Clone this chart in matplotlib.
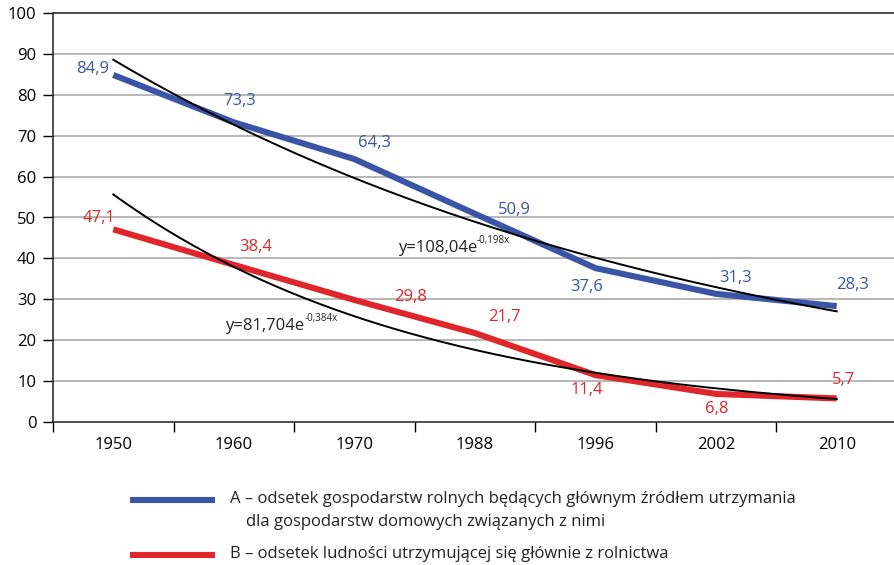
import numpy as np
import matplotlib
matplotlib.use("Agg")
import matplotlib.pyplot as plt
from matplotlib.lines import Line2D

plt.rcParams['font.family'] = ['Open Sans', 'DejaVu Sans']

years = ['1950', '1960', '1970', '1988', '1996', '2002', '2010']
series_a = [84.9, 73.3, 64.3, 50.9, 37.6, 31.3, 28.3]
series_b = [47.1, 38.4, 29.8, 21.7, 11.4, 6.8, 5.7]
labels_a = ['84,9', '73,3', '64,3', '50,9', '37,6', '31,3', '28,3']
labels_b = ['47,1', '38,4', '29,8', '21,7', '11,4', '6,8', '5,7']
# trend y = a * exp(b * x), x = 1..7 (as printed on the chart)
trend_a = (108.04, -0.198)
trend_b = (81.704, -0.384)
trend_a_text = ('y=108,04e', '-0,198x')
trend_b_text = ('y=81,704e', '-0,384x')
legend_a = 'A – odsetek gospodarstw rolnych będących głównym źródłem utrzymania'
legend_a2 = 'dla gospodarstw domowych związanych z nimi'
legend_b = 'B – odsetek ludności utrzymującej się głównie z rolnictwa'

blue = '#3a54a6'
red = '#e0262b'
fs = 12

fig = plt.figure(figsize=(8.94, 5.65), dpi=100)
ax = fig.add_axes([53 / 894, 1 - 421.7 / 565, 844 / 894, 408.4 / 565])

x = np.arange(len(years))
ax.plot(x, series_a, color=blue, lw=4.4, solid_capstyle='butt', zorder=3)
ax.plot(x, series_b, color=red, lw=4.4, solid_capstyle='butt', zorder=3)

xs = np.linspace(0, len(years) - 1, 200)
ax.plot(xs, trend_a[0] * np.exp(trend_a[1] * (xs + 1)), color='black', lw=1.4, zorder=4)
ax.plot(xs, trend_b[0] * np.exp(trend_b[1] * (xs + 1)), color='black', lw=1.4, zorder=4)

# label offsets in pixels
offs_a = [(-21, 6), (6, 21), (20, 16), (39, 4), (-9, -19), (19, 16), (16, 21)]
offs_b = [(-14, 11), (22, 18), (56, 3), (29, 16), (-9, -15), (1, -15), (7, 18)]
for i in range(len(years)):
    ax.annotate(labels_a[i], (x[i], series_a[i]), xytext=offs_a[i], textcoords='offset pixels',
                ha='center', va='center', color=blue, fontsize=fs)
    ax.annotate(labels_b[i], (x[i], series_b[i]), xytext=offs_b[i], textcoords='offset pixels',
                ha='center', va='center', color=red, fontsize=fs)

t1 = ax.text(2.36, 42.6, trend_a_text[0], ha='left', va='center', fontsize=fs, color='#222222')
ax.annotate(trend_a_text[1], xy=(1.0, 0.62), xycoords=t1, ha='left', va='bottom', fontsize=7, color='#222222')
t2 = ax.text(0.93, 23.4, trend_b_text[0], ha='left', va='center', fontsize=fs, color='#222222')
ax.annotate(trend_b_text[1], xy=(1.0, 0.62), xycoords=t2, ha='left', va='bottom', fontsize=7, color='#222222')

ax.set_xlim(-0.5, len(years) - 0.5)
ax.set_ylim(0, 100)
ax.set_yticks(np.arange(0, 101, 10))
ax.tick_params(axis='y', length=7, width=1, pad=5, labelsize=fs, color='black')
ax.set_xticks(x)
ax.set_xticklabels(years, fontsize=fs)
ax.set_xticks(np.arange(-0.5, len(years)), minor=True)
ax.tick_params(axis='x', which='major', length=0, pad=11)
ax.tick_params(axis='x', which='minor', length=7, width=1, color='black')
for v in range(10, 100, 10):
    ax.axhline(v, color='#a3a3a3', lw=1.1, zorder=1)
ax.spines['right'].set_visible(False)
for s in ['left', 'bottom', 'top']:
    ax.spines[s].set_linewidth(1.1)
    ax.spines[s].set_color('#222222')

# legend
fig.add_artist(Line2D([130 / 894, 215 / 894], [1 - 500 / 565] * 2, color=blue, lw=4.4, solid_capstyle='butt'))
fig.add_artist(Line2D([130 / 894, 215 / 894], [1 - 555 / 565] * 2, color=red, lw=4.4, solid_capstyle='butt'))
fig.text(230 / 894, 1 - 499 / 565, legend_a, ha='left', va='center', fontsize=fs, color='#222222')
fig.text(246 / 894, 1 - 522 / 565, legend_a2, ha='left', va='center', fontsize=fs, color='#222222')
fig.text(230 / 894, 1 - 554 / 565, legend_b, ha='left', va='center', fontsize=fs, color='#222222')

fig.savefig('out.png', dpi=100)
